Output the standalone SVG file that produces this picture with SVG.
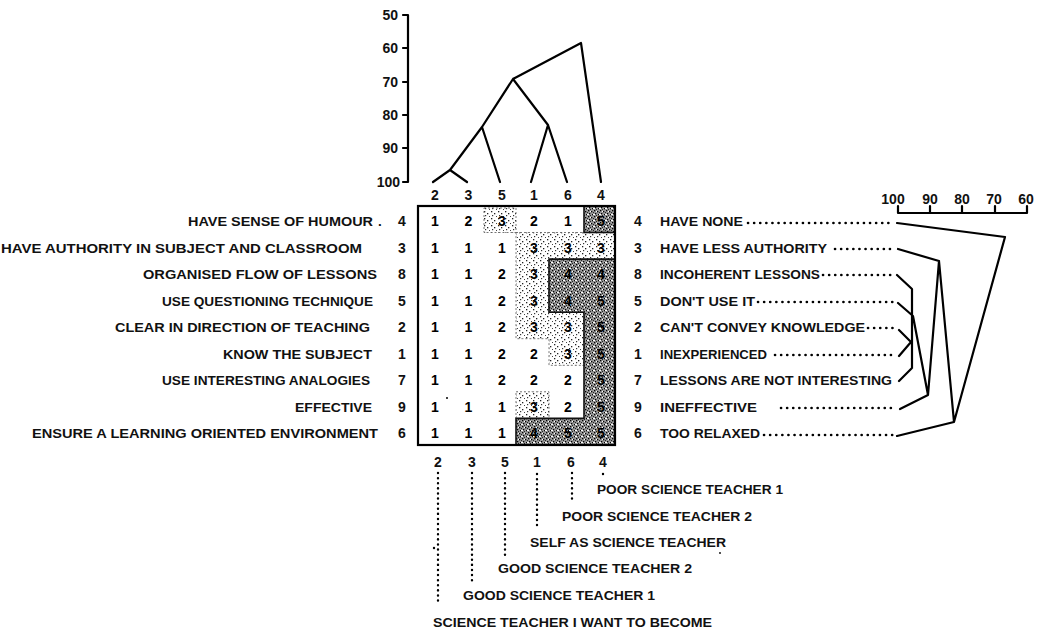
<svg xmlns="http://www.w3.org/2000/svg" width="1037" height="634" viewBox="0 0 1037 634">
<style>
text{font-family:"Liberation Sans",Arial,sans-serif;fill:#111;}
.lb{font-size:13.5px;font-weight:bold;}
.num{font-size:14px;font-weight:bold;text-anchor:middle;}
.cell{font-size:14px;font-weight:bold;text-anchor:middle;fill:#000;}
.ax{font-size:14px;font-weight:bold;text-anchor:end;}
.sc{font-size:14px;font-weight:bold;text-anchor:middle;}
.ln{fill:none;stroke:#000;stroke-width:2.2;stroke-linecap:round;stroke-linejoin:round;}
.dot{fill:none;stroke:#000;stroke-width:2.6;stroke-linecap:round;stroke-dasharray:0.1 6;}
.dotv{fill:none;stroke:#000;stroke-width:2.4;stroke-linecap:round;stroke-dasharray:0.1 5;}
</style>
<defs>
<pattern id="dk" width="6" height="6" patternUnits="userSpaceOnUse">
<rect width="6" height="6" fill="#9a9a9a"/>
<rect x="0" y="0" width="1.3" height="1.3" fill="#000"/>
<rect x="3" y="1" width="1.3" height="1.3" fill="#000"/>
<rect x="1" y="3" width="1.3" height="1.3" fill="#000"/>
<rect x="4" y="4" width="1.3" height="1.3" fill="#000"/>
<rect x="2" y="5" width="1" height="1" fill="#222"/>
<rect x="5" y="2" width="1" height="1" fill="#222"/>
<rect x="2" y="1" width="1" height="1" fill="#fff"/>
<rect x="5" y="4" width="1" height="1" fill="#fff"/>
<rect x="0" y="4" width="1" height="1" fill="#fff"/>
</pattern>
<pattern id="lt" width="7" height="7" patternUnits="userSpaceOnUse">
<rect width="7" height="7" fill="#fff"/>
<rect x="1" y="1" width="1.3" height="1.3" fill="#222"/>
<rect x="4" y="3" width="1.3" height="1.3" fill="#222"/>
<rect x="2" y="5" width="1.2" height="1.2" fill="#333"/>
<rect x="6" y="6" width="1" height="1" fill="#444"/>
</pattern>
</defs>
<rect width="1037" height="634" fill="#fff"/>

<!-- top axis -->
<g id="top-axis">
<path class="ln" d="M408,15 V182 M403,15 H408 M403,48 H408 M403,82 H408 M403,115 H408 M403,148 H408 M403,182 H408"/>
<text class="ax" x="398" y="20">50</text>
<text class="ax" x="398" y="53">60</text>
<text class="ax" x="398" y="87">70</text>
<text class="ax" x="398" y="120">80</text>
<text class="ax" x="398" y="153">90</text>
<text class="ax" x="400" y="187">100</text>
</g>

<!-- connectors -->
<g id="connectors">
<path class="ln" d="M433,182 L450,170 L467,182 M450,170 L482,127 L500,182 M482,127 L513,79 L548,125 L531,182 M548,125 L567,182 M513,79 L581,43 L601,182"/>
<path class="ln" d="M897,223 L1005,237 M898,249 L939,261 M897,275 L912,289 M898,303 L913,316 M899,330 L911,342 L899,356 M899,381 L912,368 M912,289 V368 M913,316 L928,395 M900,409 L928,395 L939,261 L954,422 M897,436 L954,422 L1005,237"/>
<path class="dot" d="M748,223 H893 M835,249 H893 M823,275 H893 M758,302 H893 M868,328 H893 M775,355 H893 M781,408 H893 M764,435 H893"/>
<path class="dotv" d="M438,473 V605 M472,473 V583 M505,473 V555 M537,474 V527 M572,473 V500 M603,474 V474.5"/>
</g>

<!-- right scale -->
<g id="right-scale">
<path class="ln" d="M898,206 V213 H1027 V206 M930,206 V213 M962,206 V213 M995,206 V213"/>
<text class="sc" x="893" y="204">100</text>
<text class="sc" x="930" y="204">90</text>
<text class="sc" x="962" y="204">80</text>
<text class="sc" x="994" y="204">70</text>
<text class="sc" x="1026" y="204">60</text>
</g>

<!-- grid -->
<g id="grid">
<path d="M516,232.5 H615 V259.1 H549 V312.2 H584 V365.3 H549 V338.7 H516 Z" fill="url(#lt)" stroke="#555" stroke-width="0.8" stroke-dasharray="2 2"/>
<rect x="484" y="208" width="32" height="24.5" fill="url(#lt)" stroke="#555" stroke-width="0.8" stroke-dasharray="2 2"/>
<rect x="516" y="391.8" width="33" height="26.6" fill="url(#lt)" stroke="#555" stroke-width="0.8" stroke-dasharray="2 2"/>
<path d="M549,259.1 H615 V445 H516 V418.4 H584 V312.2 H549 Z" fill="url(#dk)" stroke="#111" stroke-width="1.6"/>
<rect x="584" y="206" width="31" height="26.5" fill="url(#dk)" stroke="#111" stroke-width="1.6"/>
<rect x="418" y="206" width="197" height="239" fill="none" stroke="#000" stroke-width="2.2"/>
<circle cx="447" cy="398" r="1" fill="#000"/>
</g>

<g id="col-headers">
<text class="num" x="435" y="200">2</text>
<text class="num" x="468.5" y="200">3</text>
<text class="num" x="502" y="200">5</text>
<text class="num" x="534" y="200">1</text>
<text class="num" x="568" y="200">6</text>
<text class="num" x="601" y="200">4</text>
</g>

<g id="cells">
<g transform="translate(0,226)"><text class="cell" x="435">1</text><text class="cell" x="468.5">2</text><text class="cell" x="502">3</text><text class="cell" x="534">2</text><text class="cell" x="568">1</text><text class="cell" x="601">5</text></g>
<g transform="translate(0,252.5)"><text class="cell" x="435">1</text><text class="cell" x="468.5">1</text><text class="cell" x="502">1</text><text class="cell" x="534">3</text><text class="cell" x="568">3</text><text class="cell" x="601">3</text></g>
<g transform="translate(0,279)"><text class="cell" x="435">1</text><text class="cell" x="468.5">1</text><text class="cell" x="502">2</text><text class="cell" x="534">3</text><text class="cell" x="568">4</text><text class="cell" x="601">4</text></g>
<g transform="translate(0,305.5)"><text class="cell" x="435">1</text><text class="cell" x="468.5">1</text><text class="cell" x="502">2</text><text class="cell" x="534">3</text><text class="cell" x="568">4</text><text class="cell" x="601">5</text></g>
<g transform="translate(0,332)"><text class="cell" x="435">1</text><text class="cell" x="468.5">1</text><text class="cell" x="502">2</text><text class="cell" x="534">3</text><text class="cell" x="568">3</text><text class="cell" x="601">5</text></g>
<g transform="translate(0,358.5)"><text class="cell" x="435">1</text><text class="cell" x="468.5">1</text><text class="cell" x="502">2</text><text class="cell" x="534">2</text><text class="cell" x="568">3</text><text class="cell" x="601">5</text></g>
<g transform="translate(0,385)"><text class="cell" x="435">1</text><text class="cell" x="468.5">1</text><text class="cell" x="502">2</text><text class="cell" x="534">2</text><text class="cell" x="568">2</text><text class="cell" x="601">5</text></g>
<g transform="translate(0,411.5)"><text class="cell" x="435">1</text><text class="cell" x="468.5">1</text><text class="cell" x="502">1</text><text class="cell" x="534">3</text><text class="cell" x="568">2</text><text class="cell" x="601">5</text></g>
<g transform="translate(0,438)"><text class="cell" x="435">1</text><text class="cell" x="468.5">1</text><text class="cell" x="502">1</text><text class="cell" x="534">4</text><text class="cell" x="568">5</text><text class="cell" x="601">5</text></g>
</g>

<g id="left-labels">
<text class="lb" x="188" y="226" textLength="185" lengthAdjust="spacingAndGlyphs">HAVE SENSE OF HUMOUR</text>
<text class="lb" x="378" y="226">.</text>
<text class="lb" x="1" y="252.5" textLength="361" lengthAdjust="spacingAndGlyphs">HAVE AUTHORITY IN SUBJECT AND CLASSROOM</text>
<text class="lb" x="143" y="279" textLength="234" lengthAdjust="spacingAndGlyphs">ORGANISED FLOW OF LESSONS</text>
<text class="lb" x="162" y="305.5" textLength="211" lengthAdjust="spacingAndGlyphs">USE QUESTIONING TECHNIQUE</text>
<text class="lb" x="115" y="332" textLength="255" lengthAdjust="spacingAndGlyphs">CLEAR IN DIRECTION OF TEACHING</text>
<text class="lb" x="223" y="358.5" textLength="149" lengthAdjust="spacingAndGlyphs">KNOW THE SUBJECT</text>
<text class="lb" x="162" y="385" textLength="208" lengthAdjust="spacingAndGlyphs">USE INTERESTING ANALOGIES</text>
<text class="lb" x="295" y="411.5" textLength="77" lengthAdjust="spacingAndGlyphs">EFFECTIVE</text>
<text class="lb" x="32" y="438" textLength="346" lengthAdjust="spacingAndGlyphs">ENSURE A LEARNING ORIENTED ENVIRONMENT</text>
</g>
<g id="left-numbers">
<text class="num" x="402" y="226">4</text>
<text class="num" x="402" y="252.5">3</text>
<text class="num" x="402" y="279">8</text>
<text class="num" x="402" y="305.5">5</text>
<text class="num" x="402" y="332">2</text>
<text class="num" x="402" y="358.5">1</text>
<text class="num" x="402" y="385">7</text>
<text class="num" x="402" y="411.5">9</text>
<text class="num" x="402" y="438">6</text>
</g>

<g id="right-labels">
<text class="num" x="638" y="226">4</text>
<text class="num" x="638" y="252.5">3</text>
<text class="num" x="638" y="279">8</text>
<text class="num" x="638" y="305.5">5</text>
<text class="num" x="638" y="332">2</text>
<text class="num" x="638" y="358.5">1</text>
<text class="num" x="638" y="385">7</text>
<text class="num" x="638" y="411.5">9</text>
<text class="num" x="638" y="438">6</text>
<text class="lb" x="660" y="226" textLength="83" lengthAdjust="spacingAndGlyphs">HAVE NONE</text>
<text class="lb" x="660" y="252.5" textLength="167" lengthAdjust="spacingAndGlyphs">HAVE LESS AUTHORITY</text>
<text class="lb" x="660" y="279" textLength="160" lengthAdjust="spacingAndGlyphs">INCOHERENT LESSONS</text>
<text class="lb" x="660" y="305.5" textLength="95" lengthAdjust="spacingAndGlyphs">DON'T USE IT</text>
<text class="lb" x="660" y="332" textLength="205" lengthAdjust="spacingAndGlyphs">CAN'T CONVEY KNOWLEDGE</text>
<text class="lb" x="660" y="358.5" textLength="107" lengthAdjust="spacingAndGlyphs">INEXPERIENCED</text>
<text class="lb" x="660" y="385" textLength="232" lengthAdjust="spacingAndGlyphs">LESSONS ARE NOT INTERESTING</text>
<text class="lb" x="660" y="411.5" textLength="97" lengthAdjust="spacingAndGlyphs">INEFFECTIVE</text>
<text class="lb" x="660" y="438" textLength="100" lengthAdjust="spacingAndGlyphs">TOO RELAXED</text>
</g>

<g id="bottom-labels">
<text class="num" x="438" y="467">2</text>
<text class="num" x="472" y="467">3</text>
<text class="num" x="505" y="467">5</text>
<text class="num" x="537" y="467">1</text>
<text class="num" x="571" y="467">6</text>
<text class="num" x="603" y="467">4</text>
<text class="lb" x="597" y="494" textLength="186" lengthAdjust="spacingAndGlyphs">POOR SCIENCE TEACHER 1</text>
<text class="lb" x="562" y="521" textLength="190" lengthAdjust="spacingAndGlyphs">POOR SCIENCE TEACHER 2</text>
<text class="lb" x="530" y="547" textLength="196" lengthAdjust="spacingAndGlyphs">SELF AS SCIENCE TEACHER</text>
<text class="lb" x="498" y="573" textLength="194" lengthAdjust="spacingAndGlyphs">GOOD SCIENCE TEACHER 2</text>
<text class="lb" x="463" y="600" textLength="192" lengthAdjust="spacingAndGlyphs">GOOD SCIENCE TEACHER 1</text>
<text class="lb" x="433" y="627" textLength="279" lengthAdjust="spacingAndGlyphs">SCIENCE TEACHER I WANT TO BECOME</text>
<circle cx="434" cy="548" r="1.2" fill="#000"/>
<circle cx="720" cy="553" r="0.9" fill="#000"/>
</g>
</svg>
